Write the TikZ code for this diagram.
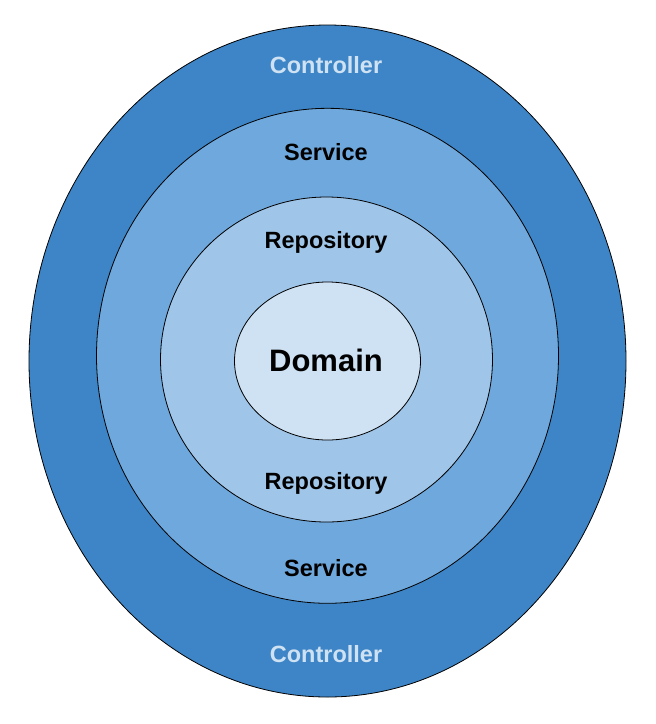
\documentclass[tikz,border=0pt]{standalone}
\usepackage{fontspec}
\setmainfont{Liberation Sans}
\definecolor{ctrlblue}{HTML}{3D85C6}
\definecolor{servblue}{HTML}{6FA8DC}
\definecolor{repoblue}{HTML}{9FC5E8}
\definecolor{domblue}{HTML}{CFE2F3}
\tikzset{
  layer/.style={draw=black, line width=0.8pt},
  lbl/.style={anchor=base, inner sep=0pt, font=\fontsize{23.5}{28}\selectfont\bfseries},
  ctrllbl/.style={lbl, text=domblue},
  darklbl/.style={lbl, text=black},
  domlbl/.style={anchor=base, inner sep=0pt, font=\fontsize{31}{36}\selectfont\bfseries, text=black}
}
\begin{document}
\begin{tikzpicture}[x=1pt, y=-1pt]
\useasboundingbox (0,0) rectangle (656,724);
\fill[white] (0,0) rectangle (656,724);
\draw[layer, fill=ctrlblue] (327.5,361) ellipse [x radius=298.5, y radius=336];
\draw[layer, fill=servblue] (327.5,355.8) ellipse [x radius=231, y radius=247.5];
\draw[layer, fill=repoblue] (326.5,359.5) ellipse [x radius=166, y radius=162.5];
\draw[layer, fill=domblue] (327.5,361) ellipse [x radius=93, y radius=79];
\node[ctrllbl] (ctrltop) at (326,73.5) {Controller};
\node[darklbl] (servtop) at (326,160.5) {Service};
\node[darklbl] (repotop) at (326,248.5) {Repository};
\node[domlbl] (domain) at (326,371.5) {Domain};
\node[darklbl] (repobot) at (326,489) {Repository};
\node[darklbl] (servbot) at (326,576) {Service};
\node[ctrllbl] (ctrlbot) at (326,662.5) {Controller};
\end{tikzpicture}
\end{document}
